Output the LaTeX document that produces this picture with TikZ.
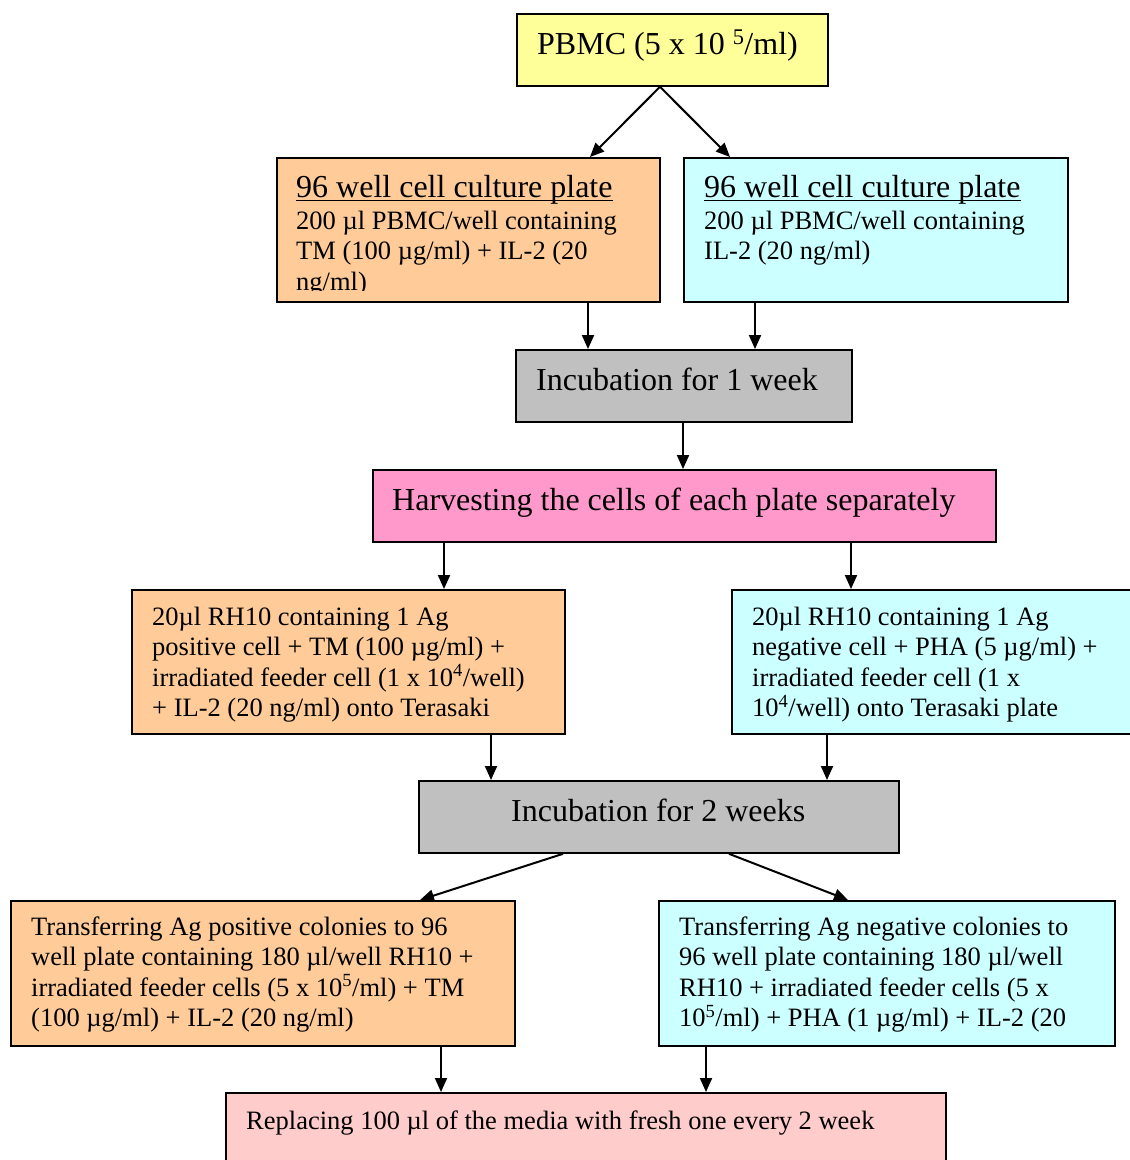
\documentclass[tikz,border=0pt]{standalone}
\usepackage{fontspec}
\setmainfont{Liberation Serif}
\usetikzlibrary{arrows.meta}
\definecolor{cyel}{HTML}{FFFF99}
\definecolor{cpeach}{HTML}{FFCC99}
\definecolor{ccyan}{HTML}{CCFFFF}
\definecolor{cgray}{HTML}{C0C0C0}
\definecolor{cpink}{HTML}{FF99CC}
\definecolor{clpink}{HTML}{FFCCCC}
\begin{document}
\begin{tikzpicture}[x=1pt,y=-1pt,
  box/.style={draw=black, line width=1.8pt, anchor=north west, inner sep=0pt},
  txt/.style={anchor=base west, align=left, inner sep=0pt, font=\fontsize{26.5}{30.5}\selectfont},
  big/.style={anchor=base west, inner sep=0pt, font=\fontsize{32}{36}\selectfont},
  arr/.style={line width=2pt, -{Triangle[length=14pt,width=12pt]}}]
\useasboundingbox (0,0) rectangle (1130,1160);
\clip (0,0) rectangle (1130,1160);
% boxes
\node[box, fill=cyel, minimum width=311pt, minimum height=72pt] (pbmc) at (516,13) {};
\node[box, fill=cpeach, minimum width=383pt, minimum height=144pt] (lplate) at (276,157) {};
\node[box, fill=ccyan, minimum width=384pt, minimum height=144pt] (rplate) at (683,157) {};
\node[box, fill=cgray, minimum width=336pt, minimum height=72pt] (inc1) at (515,349) {};
\node[box, fill=cpink, minimum width=623pt, minimum height=72pt] (harv) at (372,469) {};
\node[box, fill=cpeach, minimum width=433pt, minimum height=144pt] (lrh) at (131,589) {};
\node[box, fill=ccyan, minimum width=410pt, minimum height=144pt] (rrh) at (731,589) {};
\node[box, fill=cgray, minimum width=480pt, minimum height=72pt] (inc2) at (418,780) {};
\node[box, fill=cpeach, minimum width=504pt, minimum height=145pt] (ltr) at (10,900) {};
\node[box, fill=ccyan, minimum width=456pt, minimum height=145pt] (rtr) at (658,900) {};
\node[box, fill=clpink, minimum width=720pt, minimum height=90pt] (repl) at (225,1092) {};
% texts
\node[big] (pbmct) at (537,54) {PBMC (5 x 10 \textsuperscript{5}/ml)};
\node[big] (lplt) at (296,197) {96 well cell culture plate};
\draw[line width=1.2pt] ([yshift=-3.5pt]lplt.base west) -- ([yshift=-3.5pt]lplt.base east);
\begin{scope}
\clip (lplate.north west) rectangle ([yshift=12pt]lplate.south east);
\node[txt] (lplb) at (296,290) {200 µl PBMC/well containing\\TM (100 µg/ml) + IL-2 (20\\ng/ml)};
\end{scope}
\node[big] (rplt) at (704,197) {96 well cell culture plate};
\draw[line width=1.2pt] ([yshift=-3.5pt]rplt.base west) -- ([yshift=-3.5pt]rplt.base east);
\node[txt] (rplb) at (704,259.5) {200 µl PBMC/well containing\\IL-2 (20 ng/ml)};
\node[big] (inc1t) at (536,390) {Incubation for 1 week};
\node[big] (harvt) at (392,510) {Harvesting the cells of each plate separately};
\node[txt] (lrht) at (152,716.5) {20µl RH10 containing 1 Ag\\positive cell + TM (100 µg/ml) +\\irradiated feeder cell (1 x 10\textsuperscript{4}/well)\\+ IL-2 (20 ng/ml) onto Terasaki};
\node[txt] (rrht) at (752,716.5) {20µl RH10 containing 1 Ag\\negative cell + PHA (5 µg/ml) +\\irradiated feeder cell (1 x\\10\textsuperscript{4}/well) onto Terasaki plate};
\node[big] (inc2t) at (511,821) {Incubation for 2 weeks};
\node[txt] (ltrt) at (31,1026.5) {Transferring Ag positive colonies to 96\\well plate containing 180 µl/well RH10 +\\irradiated feeder cells (5 x 10\textsuperscript{5}/ml) + TM\\(100 µg/ml) + IL-2 (20 ng/ml)};
\node[txt] (rtrt) at (679,1026.5) {Transferring Ag negative colonies to\\96 well plate containing 180 µl/well\\RH10 + irradiated feeder cells (5 x\\10\textsuperscript{5}/ml) + PHA (1 µg/ml) + IL-2 (20};
\node[txt] (replt) at (246,1129) {Replacing 100 µl of the media with fresh one every 2 week};
% arrows
\draw[arr] ([xshift=144pt]pbmc.south west) -- ([xshift=314pt]lplate.north west);
\draw[arr] ([xshift=144pt]pbmc.south west) -- ([xshift=47pt]rplate.north west);
\draw[arr] ([xshift=312pt]lplate.south west) -- ([xshift=73pt]inc1.north west);
\draw[arr] ([xshift=72pt]rplate.south west) -- ([xshift=240pt]inc1.north west);
\draw[arr] ([xshift=168pt]inc1.south west) -- ([xshift=311pt]harv.north west);
\draw[arr] ([xshift=72pt]harv.south west) -- ([xshift=313pt]lrh.north west);
\draw[arr] ([xshift=479pt]harv.south west) -- ([xshift=120pt]rrh.north west);
\draw[arr] ([xshift=360pt]lrh.south west) -- ([xshift=73pt]inc2.north west);
\draw[arr] ([xshift=96pt]rrh.south west) -- ([xshift=409pt]inc2.north west);
\draw[arr] ([xshift=145pt]inc2.south west) -- ([xshift=410pt]ltr.north west);
\draw[arr] ([xshift=311pt]inc2.south west) -- ([xshift=190pt]rtr.north west);
\draw[arr] ([xshift=431pt]ltr.south west) -- ([xshift=216pt]repl.north west);
\draw[arr] ([xshift=48pt]rtr.south west) -- ([xshift=481pt]repl.north west);
\end{tikzpicture}
\end{document}
